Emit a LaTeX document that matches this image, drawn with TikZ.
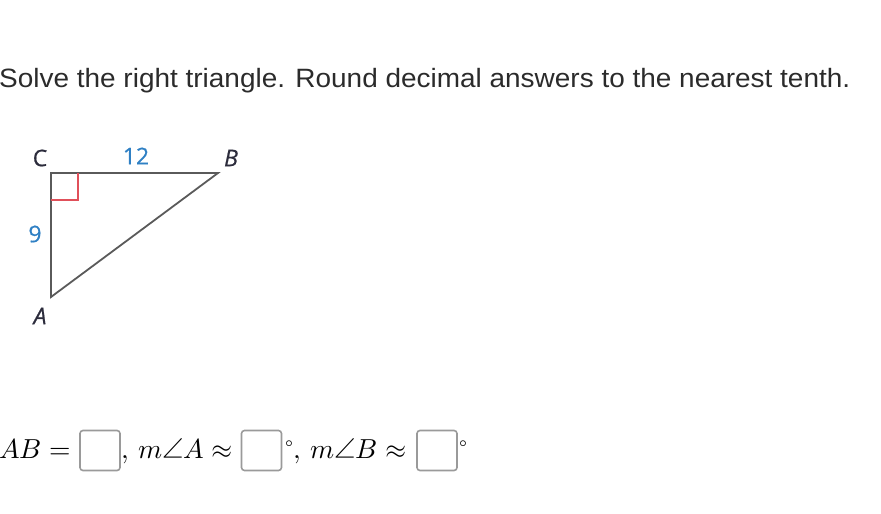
\documentclass[tikz,border=0pt]{standalone}
\usepackage{fontspec}
\setmainfont{Liberation Sans}
\newfontfamily\lblfont[FakeBold=0.6]{Open Sans}
\usepackage{unicode-math}
\setmathfont{Latin Modern Math}
\definecolor{txt}{HTML}{2B2B2B}
\definecolor{edge}{HTML}{5A5A5A}
\definecolor{rt}{HTML}{E0505A}
\definecolor{lblblue}{HTML}{2F80C4}
\definecolor{lbldark}{HTML}{2C2C3C}
\definecolor{boxgray}{HTML}{9A9A9A}
\begin{document}
\begin{tikzpicture}[x=1pt,y=-1pt,
  title/.style={anchor=base west,inner sep=0pt,text=txt,font=\fontsize{26.5}{30}\selectfont},
  vlabel/.style={inner sep=0pt,text=lbldark,font=\lblfont\fontsize{23}{26}\selectfont},
  slabel/.style={inner sep=0pt,text=lblblue,font=\lblfont\fontsize{23}{26}\selectfont},
  mathtxt/.style={anchor=base west,inner sep=0pt,text=black,font=\fontsize{27.5}{32}\selectfont},
  ansbox/.style={draw=boxgray,line width=1.6pt,rounded corners=3pt,minimum width=40pt,minimum height=40pt,inner sep=0pt},
  side/.style={draw=edge,line width=1.8pt},
  rightmark/.style={draw=rt,line width=1.2pt}]
\useasboundingbox (0,0) rectangle (881,514);
\node[title] (title) at (-1,87) {\scalebox{1.055}[1]{Solve the right triangle. Round decimal answers to the nearest tenth.}};
% triangle
\coordinate (C) at (51,173);
\coordinate (B) at (218,173);
\coordinate (A) at (51,297);
\draw[side,line join=miter] (A) -- (C) -- (B) -- cycle;
\coordinate (r1) at (78,173);
\coordinate (r2) at (78,200);
\coordinate (r3) at (51,200);
\draw[rightmark] (r1) -- (r2) -- (r3);
\node[vlabel] (lc) at (40,158) {C};
\node[vlabel] (lb) at (231,158) {\itshape B};
\node[vlabel] (la) at (40,316) {\itshape A};
\node[slabel] (l12) at (136,156) {12};
\node[slabel] (l9) at (35,234) {9};
% answer line
\node[mathtxt] (eq1) at (-1,458) {$AB=$};
\node[ansbox] (b1) at (100,450.5) {};
\node[mathtxt] (eq2) at (121,458) {$,\,m\angle A\approx$};
\node[ansbox] (b2) at (261.5,450.5) {};
\node[mathtxt] (eq3) at (285,458) {$^\circ,\,m\angle B\approx$};
\node[ansbox] (b3) at (437,450.5) {};
\node[mathtxt] (eq4) at (459,458) {$^\circ$};
\end{tikzpicture}
\end{document}
